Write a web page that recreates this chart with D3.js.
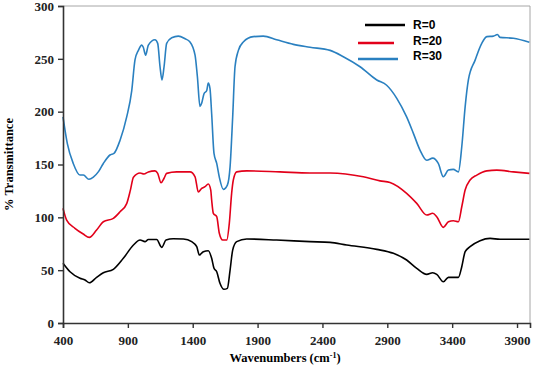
<!DOCTYPE html>
<html>
<head>
<meta charset="utf-8">
<script src="https://cdn.jsdelivr.net/npm/d3@7"></script>
<style>
  body { margin: 0; background: #fff; }
  .tick text { font-family: "Liberation Serif", serif; font-weight: bold; font-size: 13px; fill: #222; }
</style>
</head>
<body>
<div id="viz"></div>
<script>
// wavenumber / transmittance pairs
const r0X = [400, 454, 531, 570, 603, 659, 711, 788, 865, 943, 994, 1032, 1058, 1122, 1161, 1194, 1250, 1328, 1392, 1431, 1451, 1482, 1520, 1546, 1564, 1585, 1610, 1641, 1667, 1688, 1708, 1739, 1816, 2047, 2304, 2459, 2587, 2819, 2947, 3049, 3127, 3204, 3250, 3281, 3332, 3371, 3409, 3448, 3474, 3500, 3538, 3615, 3692, 3769, 3995];
const r0Y = [56.5, 48.5, 42.3, 40.7, 38.1, 43.2, 47.6, 50.8, 61.2, 73.8, 78.5, 77, 79, 79, 71.6, 78.5, 79.8, 79.5, 77, 72.2, 64.3, 67.5, 68.4, 61.2, 51.8, 48.5, 37.6, 31.9, 32.8, 50.1, 69, 77, 79.5, 78.5, 77, 76.3, 73.8, 69.7, 65.9, 59.6, 51.7, 46, 47.6, 46, 39, 43.2, 43.2, 43.2, 53.3, 67.5, 72.2, 77.9, 80.1, 79.2, 79.2];

const r20X = [400, 428, 492, 556, 603, 659, 711, 788, 840, 891, 920, 943, 994, 1024, 1058, 1109, 1130, 1156, 1179, 1199, 1276, 1379, 1418, 1443, 1469, 1495, 1520, 1539, 1546, 1559, 1585, 1605, 1631, 1662, 1682, 1700, 1713, 1739, 1816, 2073, 2304, 2459, 2715, 2844, 2921, 3049, 3127, 3204, 3250, 3281, 3332, 3371, 3409, 3448, 3474, 3500, 3538, 3590, 3667, 3744, 3872, 3995];
const r20Y = [108.5, 97.4, 89.6, 84.2, 81, 88, 95.8, 99, 105.3, 113, 126, 138, 142, 141, 143, 144, 141.6, 132.7, 137, 141.6, 143, 143, 138.4, 124, 127.4, 129, 131.5, 125.8, 116.4, 103.8, 100.6, 84.9, 78.5, 78.5, 94.3, 122.7, 135.3, 143, 144, 143, 142, 142, 138.4, 134.5, 133, 122.7, 113.2, 102.2, 103.8, 100.6, 90.5, 95.8, 96.8, 95.8, 110, 125.8, 135.3, 140, 144, 144.7, 143, 141.6];

const r30X = [400, 433, 479, 531, 557, 600, 634, 672, 711, 762, 793, 840, 891, 930, 955, 981, 1007, 1019, 1037, 1058, 1109, 1130, 1148, 1163, 1179, 1199, 1238, 1289, 1341, 1379, 1418, 1436, 1456, 1469, 1487, 1508, 1520, 1533, 1546, 1564, 1585, 1605, 1636, 1667, 1688, 1708, 1726, 1752, 1790, 1867, 1944, 2047, 2176, 2304, 2459, 2561, 2690, 2819, 2895, 2973, 3049, 3101, 3152, 3204, 3250, 3293, 3332, 3371, 3409, 3448, 3474, 3500, 3525, 3577, 3628, 3667, 3718, 3749, 3769, 3872, 3995];
const r30Y = [195, 170, 151, 140, 140, 136, 138, 143, 151, 159, 160.5, 173, 195, 220, 249, 258, 263, 261, 253.5, 263, 268, 264.6, 242.5, 230, 242.5, 264.6, 270, 271.5, 269, 266, 253.5, 233, 205, 208, 217, 220, 227, 222, 198, 160.5, 151, 138, 126.5, 130.5, 148, 195, 242.5, 258, 266, 271, 271.5, 268, 263.7, 261, 258, 252, 242.5, 230, 225, 212.6, 195, 179.5, 163.7, 154, 156, 151, 138.4, 144.7, 145.4, 143, 166.8, 204.6, 230, 248.8, 264.6, 271, 271.5, 273, 270.3, 269.5, 265.6];

const seriesNames = ['R=0', 'R=20', 'R=30'];
const seriesColors = ['#000000', '#e2001a', '#2a80c0'];
const xTicks = [400, 900, 1400, 1900, 2400, 2900, 3400, 3900];
const yTicks = [0, 50, 100, 150, 200, 250, 300];

const series = [
  r0X.map((x, i) => ({x, y: r0Y[i]})),
  r20X.map((x, i) => ({x, y: r20Y[i]})),
  r30X.map((x, i) => ({x, y: r30Y[i]})),
];

const dimensions = {
  width: 533,
  height: 368,
  margin: {top: 6, right: 3, bottom: 45, left: 63},
};
dimensions.boundedWidth = dimensions.width - dimensions.margin.left - dimensions.margin.right;
dimensions.boundedHeight = dimensions.height - dimensions.margin.top - dimensions.margin.bottom;

const svg = d3.select('#viz')
  .append('svg')
    .attr('width', dimensions.width)
    .attr('height', dimensions.height);

const viz = svg.append('g')
  .attr('transform', `translate(${dimensions.margin.left}, ${dimensions.margin.top})`);

const xScale = d3.scaleLinear()
  .domain([400, 4000])
  .range([0, dimensions.boundedWidth]);

const yScale = d3.scaleLinear()
  .domain([0, 300])
  .range([dimensions.boundedHeight, 0]);

// grey frame top / right
viz.append('path')
  .attr('d', `M0,0H${dimensions.boundedWidth}V${dimensions.boundedHeight}`)
  .attr('fill', 'none')
  .attr('stroke', '#a6a6a6')
  .attr('stroke-width', 1);

const lineGenerator = d3.line()
  .x(d => xScale(d.x))
  .y(d => yScale(d.y))
  .curve(d3.curveMonotoneX);

viz.selectAll('.series')
  .data(series)
  .join('path')
    .attr('class', 'series')
    .attr('d', d => lineGenerator(d))
    .attr('fill', 'none')
    .attr('stroke', (d, i) => seriesColors[i])
    .attr('stroke-width', 1.6)
    .attr('stroke-linejoin', 'round');

// axes
const yAxis = viz.append('g')
  .call(d3.axisLeft(yScale).tickValues(yTicks).tickFormat(d3.format('d')).tickSize(5).tickPadding(4));
const xAxis = viz.append('g')
  .attr('transform', `translate(0, ${dimensions.boundedHeight})`)
  .call(d3.axisBottom(xScale).tickValues(xTicks).tickFormat(d3.format('d')).tickSize(5).tickPadding(8));

[xAxis, yAxis].forEach(a => {
  a.select('.domain').attr('stroke', '#333').attr('stroke-width', 1.6);
  a.selectAll('.tick line').attr('stroke', '#333').attr('stroke-width', 1.4);
});

svg.append('text')
  .attr('x', 285)
  .attr('y', 362)
  .attr('text-anchor', 'middle')
  .style('font-family', '"Liberation Serif", serif')
  .style('font-weight', 'bold')
  .style('font-size', '12.5px')
  .html('Wavenumbers (cm<tspan dy="-4" font-size="8px">-1</tspan><tspan dy="4">)</tspan>');

svg.append('text')
  .attr('transform', `translate(13, ${dimensions.margin.top + dimensions.boundedHeight / 2}) rotate(-90)`)
  .attr('text-anchor', 'middle')
  .style('font-family', '"Liberation Serif", serif')
  .style('font-weight', 'bold')
  .style('font-size', '12.5px')
  .text('% Transmittance');

// legend
const legendLines = [[365, 405, 25], [358, 394, 43], [358, 398, 59]];
const legendText = [25, 41, 56];
const legend = svg.append('g');
seriesNames.forEach((name, i) => {
  legend.append('line')
    .attr('x1', legendLines[i][0]).attr('x2', legendLines[i][1])
    .attr('y1', legendLines[i][2]).attr('y2', legendLines[i][2])
    .attr('stroke', seriesColors[i])
    .attr('stroke-width', 2.5);
  legend.append('text')
    .attr('x', 413)
    .attr('y', legendText[i])
    .attr('dy', '0.35em')
    .style('font-family', '"Liberation Sans", Arial, sans-serif')
    .style('font-weight', 'bold')
    .style('font-size', '12px')
    .text(name);
});
</script>
</body>
</html>
